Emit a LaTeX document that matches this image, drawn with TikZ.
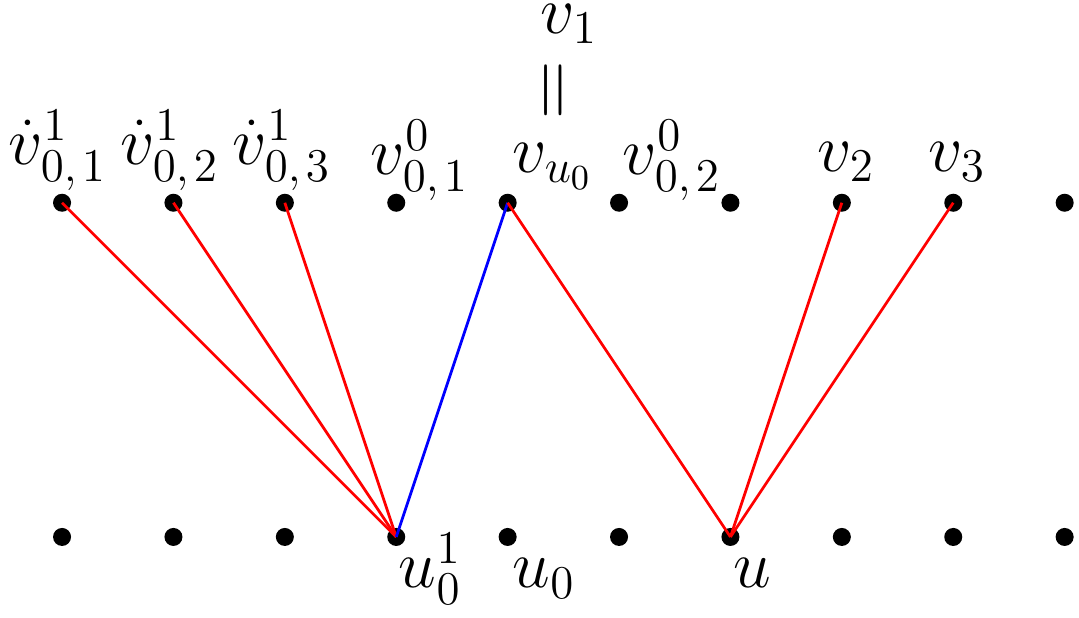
\documentclass[tikz,border=0pt]{standalone}
\begin{document}
\begin{tikzpicture}[
  dot/.style={circle,fill=black,inner sep=0pt,minimum size=4.6pt},
  lbl/.style={anchor=base west,inner sep=0pt,font=\fontsize{18.3}{22}\selectfont},
  redge/.style={red,line width=0.7pt},
  bedge/.style={blue,line width=0.7pt}
]
\useasboundingbox (-0.557,-0.727) rectangle (9.129,4.820);
\foreach \i in {0,...,9}{
  \node[dot] (t\i) at (\i,3) {};
  \node[dot] (b\i) at (\i,0) {};
}
\node[lbl] (l0) at (-0.485,3.339) {$\dot v^1_{0,\mkern2mu 1}$};
\node[lbl] (l1) at (0.521,3.339) {$\dot v^1_{0,\mkern2mu 2}$};
\node[lbl] (l2) at (1.526,3.339) {$\dot v^1_{0,\mkern2mu 3}$};
\node[lbl] (l3) at (2.765,3.25) {$v^0_{0,\mkern2mu 1}$};
\node[lbl] (l4) at (4.039,3.27) {$v_{u_0}$};
\node[lbl] (l5) at (5.027,3.25) {$v^0_{0,\mkern2mu 2}$};
\node[lbl] (l7) at (6.777,3.28) {$v_2$};
\node[lbl] (l8) at (7.774,3.28) {$v_3$};
\node[lbl] (v1) at (4.291,4.52) {$v_1$};
\node[inner sep=0pt,font=\fontsize{21}{25}\selectfont,rotate=90] (eq) at (4.465,4.008) {$=$};
\node[lbl] (lb3) at (3.016,-0.458) {$u^1_0$};
\node[lbl] (lb4) at (4.039,-0.458) {$u_0$};
\node[lbl] (lb6) at (6.023,-0.458) {$u$};
\draw[redge] (t0.center) -- (b3.center);
\draw[redge] (t1.center) -- (b3.center);
\draw[redge] (t2.center) -- (b3.center);
\draw[bedge] (b3.center) -- (t4.center);
\draw[redge] (t4.center) -- (b6.center);
\draw[redge] (t7.center) -- (b6.center);
\draw[redge] (t8.center) -- (b6.center);
\end{tikzpicture}
\end{document}
